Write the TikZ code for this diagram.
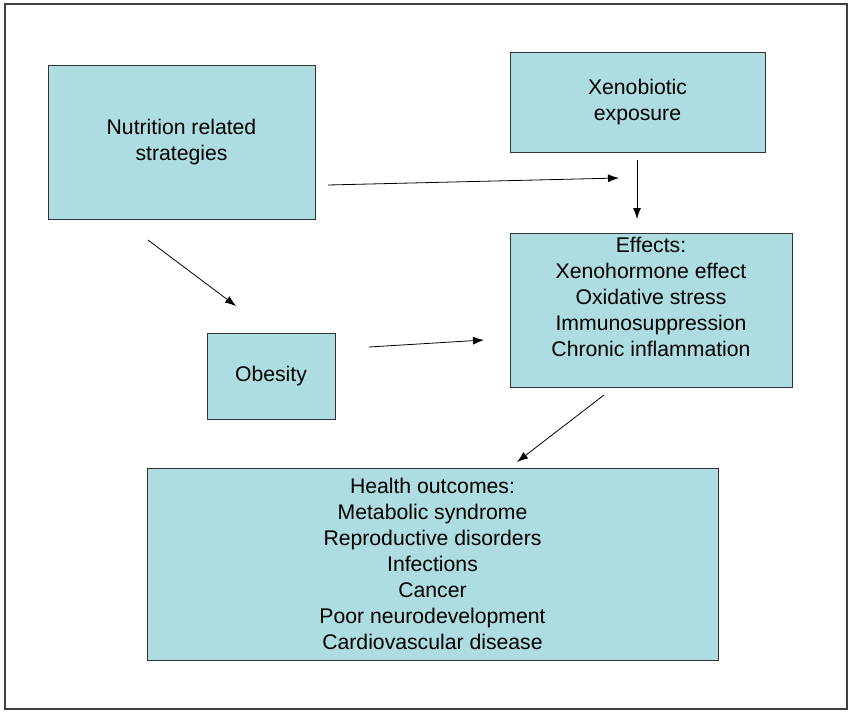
\documentclass[tikz,border=0pt]{standalone}
\usepackage{fontspec}
\setmainfont{Liberation Sans}
\usepackage{xcolor}
\usepackage{tikz}
\usetikzlibrary{arrows,arrows.meta,shapes,positioning}
\definecolor{boxfill}{HTML}{AEDDE1}

\begin{document}
\begin{tikzpicture}[x=1pt,y=-1pt,
    box/.style={draw=black!80, line width=1pt, fill=boxfill, align=center,
      inner sep=0pt, font=\fontsize{21.2}{26}\selectfont},
    link/.style={-{Latex[length=11pt,width=8pt]}, line width=0.8pt}]
        \useasboundingbox (0,0) rectangle (849,712);
        \draw[black!75, line width=1.2pt] (5,4) rectangle (847,709);

        \node[box, minimum width=267pt, minimum height=154pt] (nutr) at (181.5,142) {Nutrition related\\strategies};
        \node[box, minimum width=255pt, minimum height=100pt] (xeno) at (637.5,102) {Xenobiotic\\exposure};
        \node[box, minimum width=282pt, minimum height=154pt] (eff) at (651,310) {Effects:\\Xenohormone effect\\Oxidative stress\\Immunosuppression\\Chronic inflammation\\ \mbox{}};
        \node[box, minimum width=128pt, minimum height=86pt] (obes) at (271,376) {Obesity};
        \node[box, minimum width=571pt, minimum height=192pt] (health) at (432.5,564) {Health outcomes:\\Metabolic syndrome\\Reproductive disorders\\Infections\\Cancer\\Poor neurodevelopment\\Cardiovascular disease};

        % arrows float between the boxes
        \coordinate (nutrA) at (328,185);
        \coordinate (xenoA) at (619,178);
        \coordinate (xenoB) at (637,160);
        \coordinate (effA) at (637,219);
        \coordinate (nutrB) at (148,240);
        \coordinate (obesA) at (236,306);
        \coordinate (obesB) at (369,347);
        \coordinate (effB) at (484,340);
        \coordinate (effC) at (604,395);
        \coordinate (healthA) at (517,462);

        \draw[link] (nutrA) -- (xenoA);
        \draw[link] (xenoB) -- (effA);
        \draw[link] (nutrB) -- (obesA);
        \draw[link] (obesB) -- (effB);
        \draw[link] (effC) -- (healthA);

    \end{tikzpicture}
\end{document}
